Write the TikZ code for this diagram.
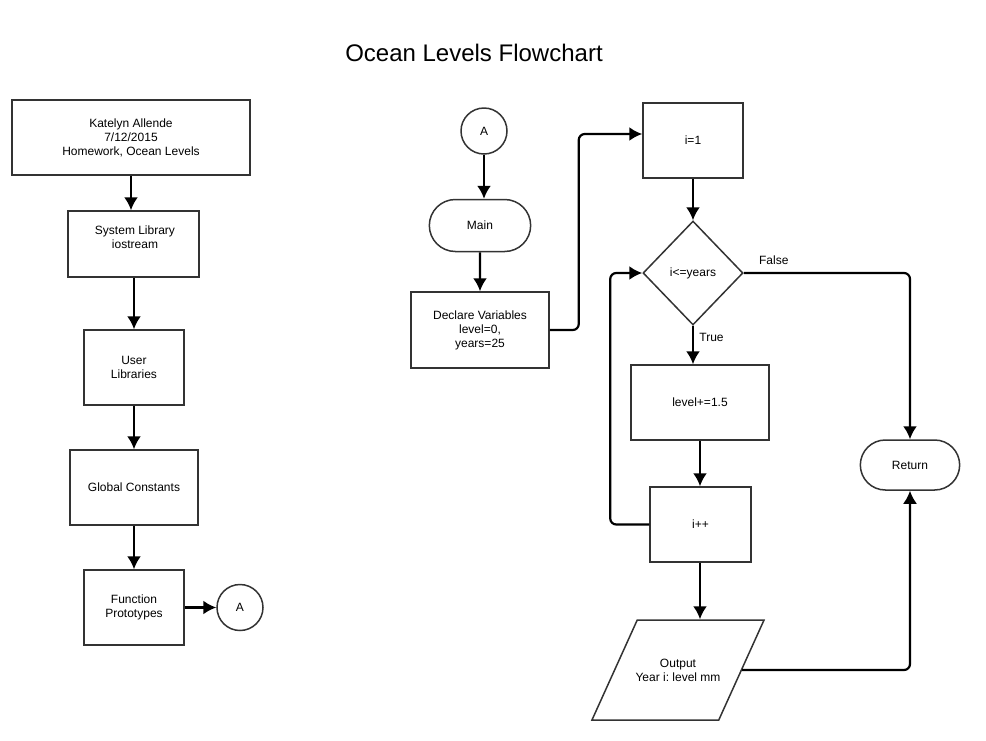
\documentclass[tikz,border=0pt]{standalone}
\usepackage{fontspec}
\setmainfont{Liberation Sans}
\frenchspacing
\usetikzlibrary{shapes.geometric,shapes.misc,arrows.meta}

\tikzset{
  box/.style={draw=black!80, line width=1.5pt, minimum width=100pt, minimum height=75pt},
  term/.style={draw=black!80, line width=1.5pt, rounded rectangle, minimum width=106pt, minimum height=50pt},
  conn/.style={draw=black!80, line width=1.5pt, circle, inner sep=0pt, minimum size=46pt},
  cond/.style={draw=black!80, line width=1.5pt, diamond, inner sep=0pt, minimum width=100pt, minimum height=104pt},
  io/.style={draw=black!80, line width=1.5pt, trapezium, trapezium left angle=65, trapezium right angle=115,
    trapezium stretches body, inner ysep=37.3pt, inner xsep=-1.7pt, minimum height=100pt}
}

\begin{document}
\begin{tikzpicture}[x=1pt, y=-1pt, line width=2.2pt, >={Latex[length=13pt,width=14pt]},
    every node/.style={font=\fontsize{12}{14}\selectfont, align=center}]
        \useasboundingbox (0,0) rectangle (986,740);
        \node[font=\fontsize{24}{28}\selectfont] (title) at (474,53) {Ocean Levels Flowchart};

        \node[box, minimum width=131pt, minimum height=66pt] (sys) at (133.5,244) {};
        \node[box, minimum width=238pt] (hdr) at (131,137.5) {Katelyn Allende\\7/12/2015\\Homework, Ocean Levels};
        \node (systxt) at (135,237) {System Library\\iostream};
        \node[box] (usr) at (134,367.5) {User\\Libraries};
        \node[box, minimum width=128pt] (glob) at (134,487.5) {Global Constants};
        \node[box] (proto) at (134,607.5) {Function\\Prototypes};
        \node[conn] (a1) at (240,607.5) {A};

        \node[conn] (a2) at (484,131) {A};
        \node[term, minimum width=108pt, minimum height=52pt] (main) at (480,225.5) {Main};
        \node[box, minimum width=138pt, minimum height=76pt] (decl) at (480,330) {Declare Variables\\level=0,\\years=25};
        \node[box] (init) at (693,140.5) {i=1};
        \node[cond] (test) at (693,273) {i\textless=years};
        \node[box, minimum width=138pt] (inc) at (700,402.5) {level+=1.5};
        \node[box, minimum width=101pt] (next) at (700.5,524.5) {i++};
        \node[io] (out) at (678,670) {Output\\Year i: level mm};
        \node[term] (ret) at (910,465) {Return};

        \draw[->] (hdr.south) -- (hdr.south |- sys.north);
        \draw[->] (sys.south -| usr.north) -- (usr.north);
        \draw[->] (usr) -- (glob);
        \draw[->] (glob) -- (proto);
        \draw[->] (proto) -- (a1);

        \draw[->] (a2.south) -- (a2.south |- main.north);
        \draw[->] (main) -- (decl);
        \draw[->, rounded corners=6pt] (decl.east) -- ++(29,0) |- ([yshift=6.5pt]init.west);
        \draw[->] (init) -- (test);
        \draw[->, rounded corners=6pt] (test.east) -- ++(30,0) node[above=4pt] {False} -| (ret.north);
        \draw[->] (test.south) -- (test.south |- inc.north) node[pos=0.3, right, xshift=2pt] {True};
        \draw[->] (inc.south) -- (inc.south |- next.north);
        \draw[->, rounded corners=6pt] (next.west) -- ++(-39,0) |- (test.west);
        \draw[->] (inc.south |- next.south) -- (inc.south |- out.north);
        \draw[->, rounded corners=6pt] (out.east) -| (ret.south);
      \end{tikzpicture}
\end{document}
